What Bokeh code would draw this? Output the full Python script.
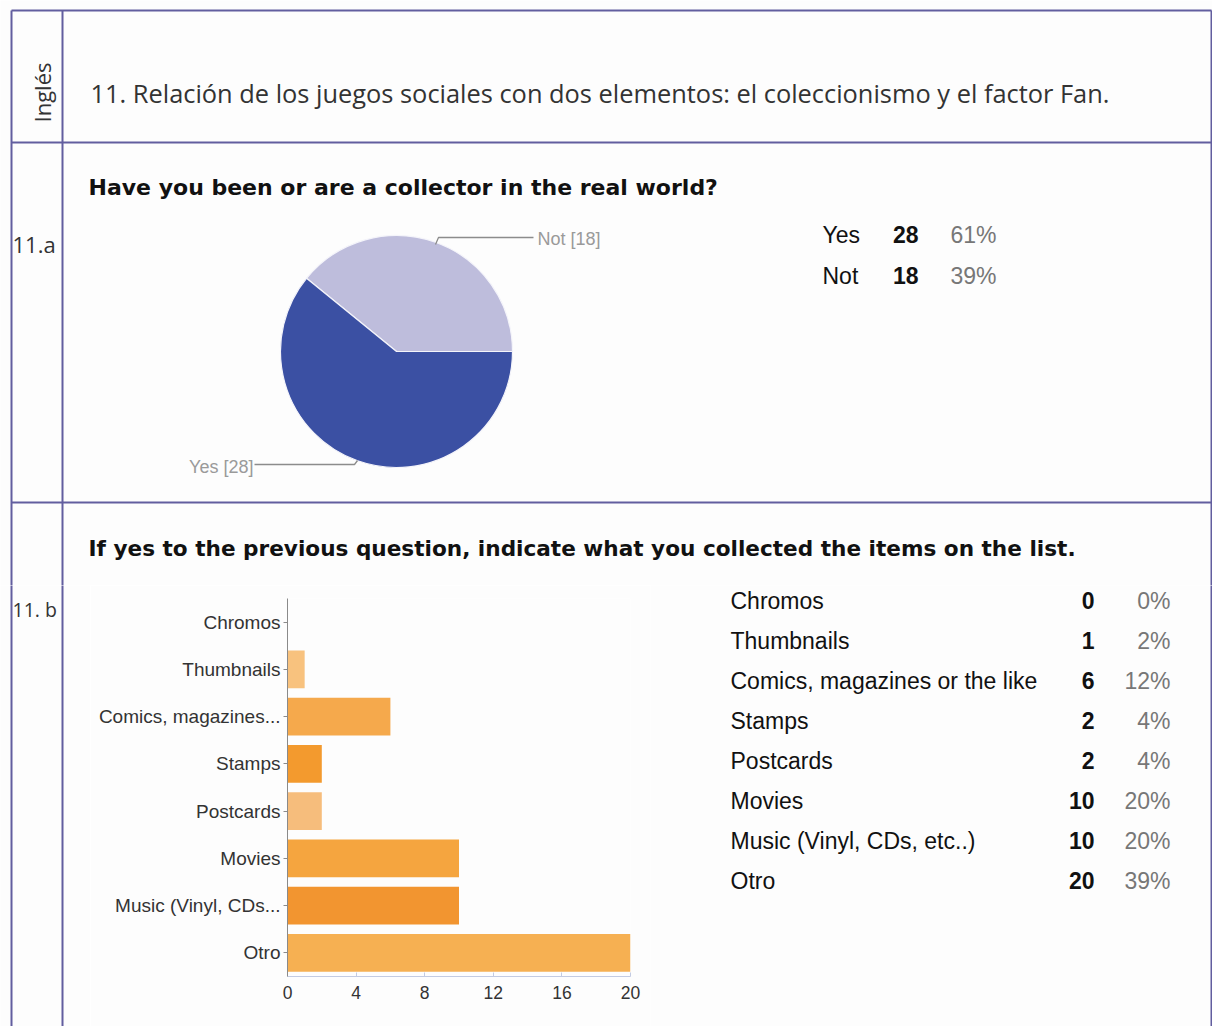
import math
from bokeh.plotting import figure
from bokeh.layouts import column, row
from bokeh.models import Range1d, FactorRange, FixedTicker, ColumnDataSource
from bokeh.core.properties import value
from bokeh.embed import file_html
from bokeh.resources import INLINE

# ---------------- data ----------------
heading = "11. Relación de los juegos sociales con dos elementos: el coleccionismo y el factor Fan."
side_label = "Inglés"
row_labels = ["11.a", "11. b"]

pie_title = "Have you been or are a collector in the real world?"
pie_labels = ["Yes", "Not"]
pie_counts = [28, 18]
pie_pcts = ["61%", "39%"]

bar_title = "If yes to the previous question, indicate what you collected the items on the list."
bar_labels = ["Chromos", "Thumbnails", "Comics, magazines or the like", "Stamps",
              "Postcards", "Movies", "Music (Vinyl, CDs, etc..)", "Otro"]
bar_axis_labels = ["Chromos", "Thumbnails", "Comics, magazines...", "Stamps",
                   "Postcards", "Movies", "Music (Vinyl, CDs...", "Otro"]
bar_counts = [0, 1, 6, 2, 2, 10, 10, 20]
bar_pcts = ["0%", "2%", "12%", "4%", "4%", "20%", "20%", "39%"]
x_ticks = [0, 4, 8, 12, 16, 20]

# ---------------- styles ----------------
BG = "#fdfdfd"
LINE = "#625e9f"
PIE_COLORS = ["#3b50a3", "#bebddc"]
BAR_COLORS = ["#f5b565", "#f8c27e", "#f5a94c", "#f39a2e", "#f6bd7c", "#f5a53f", "#f29530", "#f6b052"]
SANS = value("Liberation Sans")
HUM = value("Open Sans")
H = 1028
W_TOT = 1212
Y_SPLIT = 585
Y_END = 1026


def fy(y):
    return H - y


def page_fig(x0, x1, y0, y1):
    p = figure(width=x1 - x0, height=y1 - y0,
               x_range=Range1d(x0, x1), y_range=Range1d(H - y1, H - y0),
               x_axis_location=None, y_axis_location=None,
               output_backend="svg", toolbar_location=None, tools="")
    p.grid.visible = False
    p.min_border = 0
    p.min_border_left = 0
    p.min_border_right = 0
    p.min_border_top = 0
    p.min_border_bottom = 0
    p.outline_line_color = None
    p.background_fill_color = BG
    p.border_fill_color = BG
    p.frame_align = False
    return p


def vline(p, x, y0, y1):
    p.line([x, x], [fy(y0), fy(y1)], line_color=LINE, line_width=2)


def hline(p, y, x0, x1):
    p.line([x0, x1], [fy(y), fy(y)], line_color=LINE, line_width=2)


# ---------------- top part ----------------
top = page_fig(0, W_TOT, 0, Y_SPLIT)
hline(top, 10, 11, 1211)
hline(top, 142, 11, 1211)
hline(top, 502, 11, 1211)
for xx in (11, 62, 1211):
    vline(top, xx, 10, Y_SPLIT + 6)

top.text(x=[90], y=[fy(92)], text=[heading], text_font=HUM,
         text_font_size="25.4px", text_baseline="middle", text_color="#333333")
top.text(x=[41], y=[fy(92)], text=[side_label], angle=math.pi / 2, text_font=HUM,
         text_font_size="22px", text_baseline="middle", text_align="center", text_color="#333333")
top.text(x=[12], y=[fy(243)], text=[row_labels[0]], text_font=HUM,
         text_font_size="22px", text_baseline="middle", text_color="#333333")

top.text(x=[88], y=[fy(187)], text=[pie_title], text_font=value("DejaVu Sans"),
         text_font_style="bold", text_font_size="22px", text_baseline="middle", text_color="#111111")
top.text(x=[88], y=[fy(548)], text=[bar_title], text_font=value("DejaVu Sans"),
         text_font_style="bold", text_font_size="21.6px", text_baseline="middle", text_color="#111111")

# pie: "Not" starts at 3 o'clock going anticlockwise, then "Yes"
total = sum(pie_counts)
order = [1, 0]
starts, ends, cols = [], [], []
acc = 0.0
for i in order:
    a0 = acc
    acc += pie_counts[i] / total * 2 * math.pi
    starts.append(a0)
    ends.append(acc)
    cols.append(PIE_COLORS[i])
pie_src = ColumnDataSource(dict(start=starts, end=ends, color=cols))
top.wedge(x=396, y=fy(351), radius=116, start_angle="start", end_angle="end",
          fill_color="color", line_color="#f4f4fa", line_width=1.2, source=pie_src)

# leader lines + labels
top.line([435, 438, 533], [fy(244), fy(237), fy(237)], line_color="#8c8c8c", line_width=1.3)
top.line([254, 354, 357], [fy(464), fy(464), fy(460)], line_color="#8c8c8c", line_width=1.3)
top.text(x=[537], y=[fy(238)], text=[f"{pie_labels[1]} [{pie_counts[1]}]"], text_font=SANS,
         text_font_size="18px", text_baseline="middle", text_color="#9a9a9a")
top.text(x=[253], y=[fy(466)], text=[f"{pie_labels[0]} [{pie_counts[0]}]"], text_font=SANS,
         text_font_size="18px", text_baseline="middle", text_align="right", text_color="#9a9a9a")

# pie summary table
pie_rows_y = [fy(234 + 41 * i) for i in range(len(pie_labels))]
top.text(x=[822] * 2, y=pie_rows_y, text=pie_labels, text_font=SANS, text_font_size="23px",
         text_baseline="middle", text_color="#111111")
top.text(x=[918] * 2, y=pie_rows_y, text=[str(c) for c in pie_counts], text_font=SANS,
         text_font_style="bold", text_font_size="23px", text_baseline="middle",
         text_align="right", text_color="#111111")
top.text(x=[996] * 2, y=pie_rows_y, text=pie_pcts, text_font=SANS, text_font_size="23px",
         text_baseline="middle", text_align="right", text_color="#777777")

# ---------------- bottom left ----------------
left = page_fig(0, 90, Y_SPLIT, Y_END)
for xx in (11, 62):
    vline(left, xx, Y_SPLIT - 6, Y_END + 4)
left.text(x=[12], y=[fy(609)], text=[row_labels[1]], text_font=HUM,
          text_font_size="19.5px", text_baseline="middle", text_color="#333333")

# ---------------- bar chart (page x 90..650) ----------------
bar = figure(width=560, height=Y_END - Y_SPLIT,
             y_range=FactorRange(factors=list(reversed(bar_axis_labels))),
             x_range=Range1d(0, 20),
             output_backend="svg", toolbar_location=None, tools="",
             min_border_left=197, min_border_right=20,
             min_border_top=598 - Y_SPLIT, min_border_bottom=Y_END - 976)
bar.frame_align = False
bar.outline_line_color = None
bar.background_fill_color = BG
bar.border_fill_color = BG
bar.grid.visible = False
bar_src = ColumnDataSource(dict(cat=bar_axis_labels, val=bar_counts, color=BAR_COLORS))
bar.hbar(y="cat", left=0, right="val", height=0.8, fill_color="color", line_color=None, source=bar_src)

ya = bar.yaxis[0]
ya.axis_line_color = "#8a8a8a"
ya.major_tick_line_color = "#8a8a8a"
ya.major_tick_out = 4
ya.major_tick_in = 0
ya.minor_tick_line_color = None
ya.major_label_standoff = 3
ya.major_label_text_font = "Liberation Sans"
ya.major_label_text_font_size = "19px"
ya.major_label_text_color = "#333333"

xa = bar.xaxis[0]
xa.ticker = FixedTicker(ticks=x_ticks)
xa.axis_line_color = "#c3cbe2"
xa.major_tick_line_color = "#c3cbe2"
xa.major_tick_in = 4
xa.major_tick_out = 0
xa.minor_tick_line_color = None
xa.major_label_standoff = 9
xa.major_label_text_font = "Liberation Sans"
xa.major_label_text_font_size = "17.5px"
xa.major_label_text_color = "#333333"

# ---------------- bottom right ----------------
right = page_fig(650, W_TOT, Y_SPLIT, Y_END)
vline(right, 1211, Y_SPLIT - 6, Y_END + 4)
rows_y = [fy(600 + 40 * i) for i in range(len(bar_labels))]
right.text(x=[730] * len(bar_labels), y=rows_y, text=bar_labels, text_font=SANS,
           text_font_size="23px", text_baseline="middle", text_color="#111111")
right.text(x=[1094] * len(bar_labels), y=rows_y, text=[str(c) for c in bar_counts], text_font=SANS,
           text_font_style="bold", text_font_size="23px", text_baseline="middle",
           text_align="right", text_color="#111111")
right.text(x=[1170] * len(bar_labels), y=rows_y, text=bar_pcts, text_font=SANS,
           text_font_size="23px", text_baseline="middle", text_align="right", text_color="#777777")

layout = column(top, row(left, bar, right, spacing=0), spacing=0)

with open("out.html", "w") as f:
    f.write(file_html(layout, INLINE))
